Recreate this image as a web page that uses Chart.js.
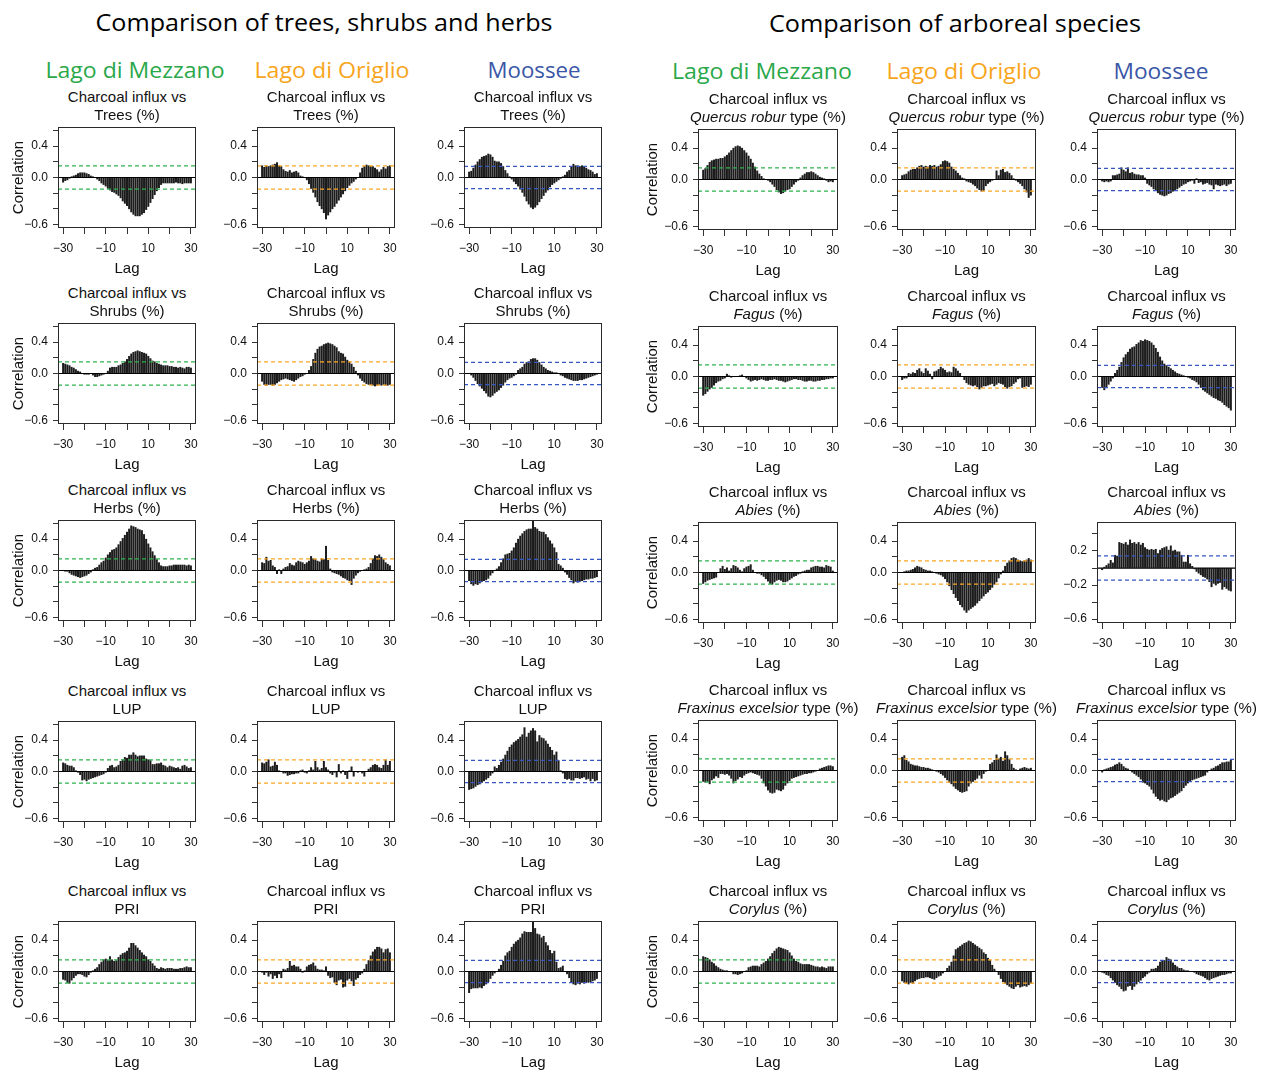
<!DOCTYPE html>
<html><head><meta charset="utf-8">
<script src="https://cdn.jsdelivr.net/npm/chart.js@4.4.0/dist/chart.umd.min.js"></script>
<style>
html,body{margin:0;padding:0;background:#fff;}
#wrap{position:relative;width:1265px;height:1070px;overflow:hidden;background:#fff;}
canvas{position:absolute;}
.t{position:absolute;white-space:nowrap;line-height:1;transform-origin:center center;}
.main{font-family:"Open Sans",sans-serif;font-size:24px;color:#000;}
.site{font-family:"Open Sans",sans-serif;font-size:22px;}
.sub{font-family:"Liberation Sans",Arial,sans-serif;font-size:15px;color:#111;}
</style></head><body><div id="wrap"></div>
<script>
// ---------------- DATA ----------------
const lags = [-30,-29,-28,-27,-26,-25,-24,-23,-22,-21,-20,-19,-18,-17,-16,-15,-14,-13,-12,-11,-10,-9,-8,-7,-6,-5,-4,-3,-2,-1,0,1,2,3,4,5,6,7,8,9,10,11,12,13,14,15,16,17,18,19,20,21,22,23,24,25,26,27,28,29,30];
const sites = ['Lago di Mezzano','Lago di Origlio','Moossee'];
const ciBySite = [0.148, 0.148, 0.143];
const leftRowLabels = ['Trees (%)','Shrubs (%)','Herbs (%)','LUP','PRI'];
const rightRowLabels = ['<i>Quercus robur</i> type (%)','<i>Fagus</i> (%)','<i>Abies</i> (%)','<i>Fraxinus excelsior</i> type (%)','<i>Corylus</i> (%)'];
const xTickValues = [-30,-20,-10,0,10,20,30];
const xTickLabels = [-30,-10,10,30];
const yTickValues = [-0.6,-0.4,-0.2,0,0.2,0.4,0.6];
const yTickLabels = [-0.6,0,0.4];
const yTickValuesAbiesMoossee = [-0.6,-0.4,-0.2,0,0.2,0.4];
const yTickLabelsAbiesMoossee = [-0.6,-0.2,0.2];

const mezzanoTrees = [-0.06,-0.04,-0.03,-0.01,0.01,0.02,0.03,0.05,0.06,0.06,
 0.06,0.05,0.04,0.02,0.01,0.00,-0.02,-0.04,-0.07,-0.09,
 -0.11,-0.14,-0.16,-0.18,-0.19,-0.21,-0.23,-0.26,-0.30,-0.33,
 -0.36,-0.40,-0.44,-0.47,-0.49,-0.49,-0.49,-0.47,-0.45,-0.41,
 -0.37,-0.32,-0.27,-0.22,-0.17,-0.13,-0.09,-0.07,-0.07,-0.07,
 -0.07,-0.07,-0.07,-0.06,-0.07,-0.07,-0.08,-0.07,-0.07,-0.07,-0.07];
const origlioTrees = [0.15,0.13,0.15,0.14,0.15,0.16,0.17,0.19,0.15,0.14,
 0.10,0.08,0.07,0.09,0.06,0.07,0.08,0.06,0.02,0.01,
 0.00,-0.03,-0.08,-0.14,-0.19,-0.25,-0.31,-0.36,-0.40,-0.45,
 -0.53,-0.48,-0.44,-0.40,-0.37,-0.33,-0.29,-0.25,-0.21,-0.17,
 -0.13,-0.10,-0.07,-0.05,-0.02,0.00,0.06,0.12,0.14,0.16,
 0.15,0.14,0.14,0.12,0.10,0.07,0.10,0.13,0.11,0.14,0.15];
const moosseeTrees = [0.07,0.08,0.12,0.16,0.20,0.23,0.26,0.27,0.28,0.30,
 0.29,0.26,0.21,0.20,0.20,0.18,0.14,0.09,0.05,0.01,
 -0.02,-0.05,-0.08,-0.11,-0.15,-0.19,-0.24,-0.30,-0.34,-0.38,
 -0.40,-0.38,-0.35,-0.31,-0.27,-0.23,-0.19,-0.16,-0.12,-0.09,
 -0.07,-0.05,-0.03,-0.01,0.01,0.03,0.07,0.09,0.13,0.17,
 0.15,0.15,0.14,0.15,0.14,0.12,0.10,0.09,0.07,0.04,0.05];
const mezzanoShrubs = [0.13,0.12,0.11,0.10,0.08,0.07,0.05,0.03,0.02,0.00,
 -0.01,-0.01,-0.01,0.00,-0.02,-0.04,-0.04,-0.03,-0.02,-0.01,
 0.00,0.03,0.07,0.08,0.08,0.08,0.10,0.11,0.13,0.15,
 0.18,0.22,0.25,0.27,0.28,0.29,0.28,0.27,0.26,0.25,
 0.22,0.19,0.16,0.15,0.13,0.12,0.11,0.10,0.10,0.10,
 0.09,0.09,0.08,0.08,0.07,0.08,0.07,0.06,0.08,0.08,0.07];
const origlioShrubs = [-0.10,-0.14,-0.15,-0.14,-0.14,-0.15,-0.14,-0.12,-0.10,-0.08,
 -0.07,-0.06,-0.07,-0.08,-0.09,-0.10,-0.08,-0.06,-0.04,-0.03,
 -0.01,0.00,0.04,0.09,0.18,0.26,0.31,0.34,0.35,0.37,
 0.38,0.39,0.38,0.37,0.35,0.33,0.28,0.26,0.25,0.21,
 0.17,0.15,0.12,0.08,0.03,-0.02,-0.06,-0.09,-0.11,-0.13,
 -0.14,-0.14,-0.15,-0.16,-0.15,-0.14,-0.15,-0.14,-0.15,-0.15,-0.14];
const moosseeShrubs = [0.00,-0.02,-0.05,-0.09,-0.13,-0.16,-0.19,-0.22,-0.25,-0.29,
 -0.30,-0.28,-0.25,-0.23,-0.21,-0.18,-0.15,-0.11,-0.08,-0.06,
 -0.05,-0.03,-0.01,0.04,0.06,0.08,0.12,0.14,0.15,0.18,
 0.19,0.19,0.17,0.14,0.11,0.08,0.06,0.04,0.03,0.02,
 0.01,0.01,0.00,-0.02,-0.03,-0.05,-0.06,-0.07,-0.08,-0.09,
 -0.09,-0.09,-0.08,-0.08,-0.07,-0.06,-0.05,-0.04,-0.03,-0.02,-0.01];
const mezzanoHerbs = [0.00,-0.01,-0.01,-0.03,-0.05,-0.06,-0.07,-0.08,-0.09,-0.08,
 -0.07,-0.06,-0.04,-0.02,0.01,0.03,0.04,0.07,0.10,0.12,
 0.16,0.20,0.23,0.26,0.27,0.29,0.33,0.37,0.41,0.45,
 0.49,0.53,0.57,0.56,0.55,0.53,0.52,0.51,0.46,0.40,
 0.34,0.29,0.24,0.19,0.14,0.10,0.06,0.05,0.05,0.05,
 0.06,0.06,0.07,0.07,0.07,0.07,0.07,0.07,0.06,0.07,0.06];
const origlioHerbs = [0.10,0.09,0.17,0.12,0.13,0.06,0.04,-0.04,0.01,-0.04,
 0.02,0.04,0.05,0.09,0.07,0.06,0.10,0.12,0.11,0.10,
 0.08,0.10,0.12,0.18,0.15,0.14,0.12,0.11,0.15,0.14,
 0.31,0.13,0.02,-0.02,-0.03,-0.04,-0.05,-0.07,-0.09,-0.10,
 -0.12,-0.13,-0.18,-0.10,-0.06,-0.03,-0.01,0.00,0.01,0.02,
 0.04,0.09,0.15,0.19,0.18,0.20,0.17,0.14,0.10,0.08,0.06];
const moosseeHerbs = [-0.13,-0.17,-0.19,-0.17,-0.18,-0.16,-0.14,-0.13,-0.12,-0.10,
 -0.06,-0.03,0.00,0.02,0.05,0.10,0.15,0.20,0.21,0.22,
 0.25,0.29,0.35,0.40,0.44,0.47,0.50,0.52,0.53,0.53,
 0.68,0.55,0.53,0.50,0.49,0.49,0.46,0.42,0.38,0.34,
 0.29,0.23,0.08,0.06,0.03,-0.02,-0.05,-0.09,-0.12,-0.16,
 -0.14,-0.15,-0.14,-0.13,-0.12,-0.11,-0.11,-0.10,-0.10,-0.09,-0.08];
const mezzanoLUP = [0.11,0.10,0.08,0.07,0.07,0.05,0.01,-0.01,-0.04,-0.11,
 -0.10,-0.12,-0.10,-0.09,-0.08,-0.07,-0.06,-0.05,-0.04,-0.03,
 -0.01,0.04,0.07,0.08,0.05,0.06,0.08,0.13,0.15,0.18,
 0.17,0.21,0.21,0.24,0.21,0.19,0.20,0.20,0.20,0.16,
 0.15,0.14,0.09,0.09,0.10,0.10,0.11,0.08,0.07,0.05,
 0.07,0.06,0.05,0.04,0.05,0.03,0.07,0.08,0.06,0.04,0.05];
const origlioLUP = [0.11,0.10,0.12,0.15,0.06,0.07,0.12,0.08,0.01,0.00,
 -0.02,-0.02,-0.05,-0.04,-0.03,-0.03,-0.02,-0.02,0.01,0.02,
 -0.01,-0.02,0.01,0.05,0.02,0.13,0.05,0.02,0.04,0.13,
 0.05,0.02,-0.02,-0.04,-0.01,-0.07,0.09,-0.02,0.01,-0.04,
 -0.09,0.01,0.06,-0.06,0.00,-0.01,0.00,-0.02,-0.06,0.00,
 0.03,0.05,0.08,0.09,0.08,0.05,0.04,0.08,0.15,0.08,0.13];
const moosseeLUP = [-0.23,-0.22,-0.21,-0.19,-0.17,-0.16,-0.14,-0.12,-0.10,-0.08,
 -0.05,-0.02,0.06,0.04,0.08,0.12,0.16,0.21,0.26,0.31,
 0.34,0.37,0.39,0.41,0.44,0.47,0.56,0.44,0.49,0.52,
 0.55,0.52,0.38,0.46,0.43,0.42,0.39,0.35,0.31,0.27,
 0.21,0.25,0.14,0.01,-0.02,-0.09,-0.10,-0.09,-0.11,-0.11,
 -0.08,-0.08,-0.09,-0.08,-0.07,-0.10,-0.09,-0.12,-0.09,-0.12,-0.11];
const mezzanoPRI = [-0.10,-0.11,-0.14,-0.15,-0.11,-0.08,-0.05,-0.03,-0.03,-0.04,
 -0.06,-0.07,-0.04,-0.01,0.01,0.03,0.05,0.09,0.12,0.15,
 0.16,0.14,0.19,0.15,0.13,0.14,0.18,0.21,0.23,0.24,
 0.26,0.30,0.36,0.36,0.33,0.30,0.27,0.24,0.21,0.19,
 0.15,0.13,0.10,0.07,0.04,0.03,0.05,0.04,0.03,0.04,
 0.04,0.04,0.03,0.03,0.03,0.04,0.04,0.05,0.06,0.05,0.05];
const origlioPRI = [-0.01,-0.04,-0.01,-0.06,-0.03,-0.09,-0.05,-0.08,-0.03,-0.08,
 0.03,0.02,0.04,0.13,0.07,0.08,0.06,0.06,0.03,-0.01,
 0.01,0.06,0.08,0.09,0.11,0.07,0.03,0.02,0.02,0.01,
 0.06,-0.05,-0.08,-0.07,-0.14,-0.17,-0.11,-0.10,-0.20,-0.19,
 -0.11,-0.09,-0.12,-0.18,-0.10,-0.08,-0.04,-0.02,0.03,0.09,
 0.14,0.20,0.25,0.28,0.31,0.31,0.29,0.24,0.28,0.29,0.24];
const moosseePRI = [-0.27,-0.22,-0.21,-0.21,-0.21,-0.20,-0.21,-0.18,-0.16,-0.13,
 -0.09,-0.05,-0.02,0.00,0.03,0.08,0.13,0.20,0.24,0.26,
 0.31,0.35,0.38,0.40,0.43,0.48,0.51,0.50,0.50,0.50,
 0.70,0.55,0.48,0.47,0.43,0.45,0.37,0.33,0.27,0.23,
 0.26,0.12,0.04,0.05,0.07,0.00,-0.03,-0.08,-0.13,-0.16,
 -0.17,-0.15,-0.16,-0.14,-0.15,-0.13,-0.14,-0.13,-0.12,-0.11,-0.09];

const mezzanoQuercus = [0.12,0.14,0.18,0.22,0.24,0.25,0.26,0.26,0.27,0.27,
 0.29,0.31,0.34,0.37,0.40,0.42,0.43,0.42,0.40,0.37,
 0.34,0.30,0.26,0.21,0.16,0.11,0.07,0.04,0.01,0.00,
 -0.01,-0.03,-0.06,-0.09,-0.13,-0.16,-0.18,-0.17,-0.15,-0.13,
 -0.12,-0.09,-0.06,-0.03,-0.01,0.02,0.05,0.07,0.09,0.09,
 0.10,0.09,0.07,0.05,0.03,0.02,0.01,-0.01,-0.03,-0.02,-0.03];
const origlioQuercus = [0.05,0.06,0.07,0.10,0.12,0.13,0.13,0.15,0.17,0.18,
 0.16,0.17,0.16,0.18,0.17,0.18,0.16,0.17,0.19,0.23,
 0.24,0.23,0.21,0.16,0.13,0.11,0.08,0.05,0.02,0.01,
 -0.02,-0.03,-0.04,-0.06,-0.08,-0.11,-0.13,-0.15,-0.14,-0.08,
 -0.05,-0.03,-0.01,0.00,0.11,0.05,0.12,0.13,0.09,0.10,
 0.08,0.05,0.01,-0.01,-0.03,-0.05,-0.08,-0.12,-0.16,-0.23,-0.20];
const moosseeQuercus = [-0.02,-0.03,-0.02,-0.03,-0.02,0.05,0.05,0.06,0.07,0.15,
 0.12,0.10,0.15,0.08,0.09,0.07,0.06,0.06,0.05,0.05,
 0.02,-0.05,-0.07,-0.09,-0.12,-0.14,-0.17,-0.19,-0.20,-0.21,
 -0.20,-0.18,-0.17,-0.15,-0.14,-0.12,-0.10,-0.08,-0.06,-0.05,
 -0.03,-0.02,-0.01,-0.05,0.01,-0.04,-0.03,-0.06,-0.05,-0.04,
 -0.06,-0.07,-0.12,-0.06,-0.07,-0.08,-0.07,-0.06,-0.08,-0.06,-0.05];
const mezzanoFagus = [-0.24,-0.22,-0.19,-0.16,-0.14,-0.11,-0.08,-0.06,-0.05,-0.03,
 -0.02,0.03,0.01,-0.01,0.00,0.00,0.00,0.01,0.02,0.00,
 -0.02,-0.04,-0.06,-0.05,-0.04,-0.05,-0.04,-0.03,-0.04,-0.05,
 -0.05,-0.04,-0.04,-0.03,-0.04,-0.05,-0.05,-0.06,-0.07,-0.06,
 -0.05,-0.04,-0.03,-0.03,-0.04,-0.04,-0.05,-0.06,-0.06,-0.05,
 -0.05,-0.06,-0.06,-0.05,-0.05,-0.04,-0.04,-0.03,-0.03,-0.02,-0.02];
const origlioFagus = [-0.04,-0.02,-0.02,0.04,0.03,0.05,0.04,0.08,0.10,0.06,
 0.04,0.10,0.07,0.03,-0.03,0.06,0.07,0.09,0.12,0.10,
 0.08,0.05,0.06,0.05,0.12,0.10,0.07,0.04,0.00,-0.04,
 -0.08,-0.10,-0.11,-0.12,-0.11,-0.13,-0.16,-0.14,-0.12,-0.12,
 -0.11,-0.10,-0.09,-0.12,-0.10,-0.08,-0.09,-0.10,-0.13,-0.15,
 -0.13,-0.12,-0.09,-0.07,-0.03,-0.02,-0.14,-0.13,-0.12,-0.13,-0.10];
const moosseeFagus = [-0.14,-0.17,-0.14,-0.10,-0.06,-0.02,0.04,0.08,0.12,0.18,
 0.24,0.28,0.31,0.35,0.37,0.38,0.41,0.43,0.46,0.45,
 0.47,0.46,0.45,0.43,0.40,0.36,0.31,0.25,0.20,0.16,
 0.14,0.12,0.10,0.08,0.06,0.04,0.03,0.02,0.01,0.00,
 -0.01,-0.02,-0.04,-0.05,-0.07,-0.10,-0.14,-0.17,-0.19,-0.21,
 -0.23,-0.25,-0.27,-0.28,-0.30,-0.31,-0.33,-0.36,-0.38,-0.40,-0.43];
const mezzanoAbies = [-0.14,-0.12,-0.10,-0.09,-0.08,-0.07,-0.06,0.00,0.05,0.08,
 0.04,0.06,0.02,0.05,0.09,0.08,0.06,0.03,0.01,0.05,
 0.07,0.08,0.10,0.03,0.00,-0.01,-0.01,-0.03,-0.05,-0.08,
 -0.11,-0.14,-0.15,-0.12,-0.10,-0.09,-0.10,-0.12,-0.12,-0.11,
 -0.09,-0.07,-0.05,-0.04,-0.02,-0.01,0.01,0.02,0.03,0.03,
 0.06,0.07,0.08,0.08,0.07,0.07,0.06,0.09,0.08,0.07,0.02];
const origlioAbies = [0.00,0.01,0.02,0.02,0.03,0.04,0.06,0.08,0.07,0.06,
 0.04,0.03,0.02,0.02,0.01,0.00,-0.01,-0.02,-0.03,-0.05,
 -0.08,-0.12,-0.17,-0.22,-0.27,-0.32,-0.36,-0.41,-0.44,-0.48,
 -0.51,-0.48,-0.46,-0.44,-0.42,-0.39,-0.36,-0.33,-0.30,-0.27,
 -0.25,-0.22,-0.19,-0.15,-0.12,-0.07,-0.02,0.02,0.08,0.12,
 0.15,0.18,0.19,0.18,0.16,0.15,0.14,0.15,0.16,0.18,0.16];
const moosseeAbies = [-0.02,0.01,0.03,0.05,0.09,0.06,0.15,0.14,0.30,0.29,
 0.28,0.30,0.27,0.33,0.29,0.30,0.28,0.30,0.27,0.29,
 0.24,0.22,0.21,0.22,0.21,0.22,0.17,0.21,0.23,0.24,
 0.25,0.21,0.26,0.20,0.21,0.19,0.19,0.15,0.07,0.07,
 0.15,0.05,0.02,-0.01,-0.04,-0.06,-0.08,-0.10,-0.11,-0.13,
 -0.16,-0.22,-0.18,-0.20,-0.18,-0.17,-0.25,-0.22,-0.24,-0.26,-0.27];
const mezzanoFraxinus = [-0.14,-0.15,-0.14,-0.17,-0.12,-0.10,-0.07,-0.09,-0.04,-0.04,
 -0.05,-0.04,-0.06,-0.10,-0.16,-0.13,-0.11,-0.08,-0.09,-0.06,
 -0.04,-0.03,-0.02,-0.03,-0.04,-0.05,-0.06,-0.10,-0.16,-0.20,
 -0.25,-0.28,-0.29,-0.28,-0.24,-0.25,-0.26,-0.24,-0.19,-0.16,
 -0.13,-0.10,-0.09,-0.08,-0.07,-0.06,-0.05,-0.04,-0.04,-0.03,
 -0.03,-0.02,-0.01,0.00,0.02,0.03,0.04,0.05,0.06,0.06,0.05];
const origlioFraxinus = [0.17,0.19,0.13,0.11,0.08,0.07,0.06,0.06,0.05,0.04,
 0.04,0.03,0.03,0.02,0.01,0.00,-0.01,-0.02,-0.04,-0.06,
 -0.09,-0.12,-0.15,-0.17,-0.20,-0.23,-0.25,-0.27,-0.28,-0.27,
 -0.26,-0.20,-0.16,-0.14,-0.12,-0.10,-0.06,-0.10,-0.04,-0.01,
 0.00,0.08,0.10,0.13,0.20,0.15,0.17,0.12,0.24,0.19,
 0.14,0.08,0.03,0.01,0.00,0.02,0.03,0.04,0.03,0.02,0.03];
const moosseeFraxinus = [-0.02,0.01,0.02,0.03,0.04,0.05,0.07,0.08,0.10,0.08,
 0.05,0.03,0.02,0.00,-0.02,-0.04,-0.06,-0.08,-0.11,-0.15,
 -0.16,-0.18,-0.20,-0.24,-0.29,-0.33,-0.36,-0.38,-0.37,-0.39,
 -0.40,-0.37,-0.35,-0.34,-0.32,-0.30,-0.28,-0.26,-0.22,-0.19,
 -0.16,-0.14,-0.12,-0.11,-0.10,-0.09,-0.08,-0.07,-0.06,-0.02,
 0.00,0.02,0.03,0.05,0.06,0.08,0.10,0.10,0.11,0.11,0.13];
const mezzanoCorylus = [0.19,0.18,0.17,0.15,0.12,0.10,0.07,0.05,0.03,0.02,
 0.01,0.01,0.00,0.00,-0.03,-0.03,-0.04,-0.03,-0.02,0.00,
 0.01,0.05,0.06,0.07,0.07,0.07,0.06,0.09,0.11,0.13,
 0.16,0.19,0.23,0.26,0.29,0.31,0.30,0.29,0.28,0.27,
 0.24,0.20,0.16,0.13,0.12,0.10,0.09,0.09,0.09,0.09,
 0.08,0.07,0.06,0.06,0.05,0.06,0.05,0.04,0.06,0.06,0.06];
const origlioCorylus = [-0.12,-0.14,-0.15,-0.16,-0.14,-0.15,-0.12,-0.10,-0.09,-0.08,
 -0.08,-0.07,-0.07,-0.08,-0.09,-0.10,-0.08,-0.06,-0.05,-0.02,
 0.00,0.04,0.07,0.12,0.20,0.28,0.30,0.32,0.34,0.36,
 0.37,0.39,0.38,0.36,0.34,0.32,0.30,0.28,0.24,0.22,
 0.17,0.14,0.08,0.03,0.00,-0.04,-0.09,-0.13,-0.15,-0.17,
 -0.19,-0.21,-0.22,-0.19,-0.17,-0.20,-0.19,-0.18,-0.19,-0.17,-0.15];
const moosseeCorylus = [-0.01,-0.02,-0.04,-0.05,-0.08,-0.11,-0.14,-0.17,-0.19,-0.22,
 -0.25,-0.24,-0.19,-0.18,-0.23,-0.19,-0.16,-0.13,-0.11,-0.08,
 -0.06,-0.03,-0.01,0.03,0.03,0.04,0.07,0.12,0.13,0.14,
 0.18,0.16,0.15,0.11,0.08,0.06,0.04,0.04,0.02,0.01,
 0.01,0.00,0.00,-0.01,-0.03,-0.04,-0.05,-0.06,-0.08,-0.10,
 -0.11,-0.09,-0.08,-0.07,-0.06,-0.05,-0.04,-0.04,-0.03,-0.02,-0.02];

const seriesGrid = [
  [mezzanoTrees,  origlioTrees,  moosseeTrees,  mezzanoQuercus,  origlioQuercus,  moosseeQuercus],
  [mezzanoShrubs, origlioShrubs, moosseeShrubs, mezzanoFagus,    origlioFagus,    moosseeFagus],
  [mezzanoHerbs,  origlioHerbs,  moosseeHerbs,  mezzanoAbies,    origlioAbies,    moosseeAbies],
  [mezzanoLUP,    origlioLUP,    moosseeLUP,    mezzanoFraxinus, origlioFraxinus, moosseeFraxinus],
  [mezzanoPRI,    origlioPRI,    moosseePRI,    mezzanoCorylus,  origlioCorylus,  moosseeCorylus]
];

// ---------------- LAYOUT / STYLE ----------------
const siteColors = ['#2aa84a','#f9a51b','#3a56a6'];
const ciColors = ['#2eb24e','#f9a825','#3656c0'];
const boxLeft = [58, 257, 464, 698, 897, 1097];
const boxWidth = [138, 138, 138, 140, 139, 139];
const boxTopLeft = [127, 323, 520, 721, 921];
const boxTopRight = [129, 326, 522, 720, 921];
const BOXH = 101, AXW = 55, AXH = 50, PADT = 8, PADR = 14;
const XMIN = -32.4, XMAX = 32.4;
const FONT = 'Liberation Sans';

Chart.defaults.font.family = FONT;
const wrap = document.getElementById('wrap');

function addText(html, cx, cy, cls, color, targetW) {
  const d = document.createElement('div');
  d.className = 't ' + cls;
  d.innerHTML = html;
  d.style.left = cx + 'px';
  d.style.top = cy + 'px';
  if (color) d.style.color = color;
  wrap.appendChild(d);
  let sx = 1;
  if (targetW) { const w = d.getBoundingClientRect().width; if (w > 0) sx = targetW / w; }
  d.style.transform = 'translate(-50%,-50%) scaleX(' + sx + ')';
}

const minus = v => (v < 0 ? '\u2212' : '');
const near = (a, b) => Math.abs(a - b) < 1e-9;

const boxPlugin = {
  id: 'frame',
  afterDraw(chart) {
    const a = chart.chartArea, ctx = chart.ctx;
    ctx.save();
    ctx.strokeStyle = '#2a2a2a';
    ctx.lineWidth = 1;
    ctx.strokeRect(a.left + 0.5, a.top + 0.5, a.right - a.left - 1, a.bottom - a.top - 1);
    ctx.restore();
  }
};

function makePanel(row, col) {
  const vals = seriesGrid[row][col];
  const site = col % 3;
  const right = col >= 3;
  const left = boxLeft[col], w = boxWidth[col];
  const top = right ? boxTopRight[row] : boxTopLeft[row];
  const special = (row === 2 && col === 5);
  const yMin = -0.645, yMax = special ? 0.54 : 0.645;
  const yT = special ? yTickValuesAbiesMoossee : yTickValues;
  const yL = special ? yTickLabelsAbiesMoossee : yTickLabels;
  const ci = ciBySite[site];

  const c = document.createElement('canvas');
  const W = AXW + w + PADR, H = PADT + BOXH + AXH;
  c.width = W; c.height = H;
  c.style.width = W + 'px'; c.style.height = H + 'px';
  c.style.left = (left - AXW) + 'px'; c.style.top = (top - PADT) + 'px';
  wrap.appendChild(c);

  const showCorr = (col === 0 || col === 3);
  new Chart(c, {
    type: 'bar',
    data: {
      datasets: [
        { type: 'bar', data: lags.map((l, i) => ({ x: l, y: vals[i] })), backgroundColor: '#1c1c1c', borderWidth: 0, barThickness: 1.35, order: 3 },
        { type: 'line', data: [{ x: XMIN, y: 0 }, { x: XMAX, y: 0 }], borderColor: '#000', borderWidth: 1.2, pointRadius: 0, order: 2 },
        { type: 'line', data: [{ x: XMIN, y: ci }, { x: XMAX, y: ci }], borderColor: ciColors[site], borderWidth: 1.3, borderDash: [4, 3], pointRadius: 0, order: 1 },
        { type: 'line', data: [{ x: XMIN, y: -ci }, { x: XMAX, y: -ci }], borderColor: ciColors[site], borderWidth: 1.3, borderDash: [4, 3], pointRadius: 0, order: 1 }
      ]
    },
    options: {
      responsive: false, animation: false, devicePixelRatio: 1,
      layout: { padding: { top: PADT, right: PADR, left: 0, bottom: 0 } },
      plugins: { legend: { display: false }, tooltip: { enabled: false } },
      scales: {
        x: {
          type: 'linear', min: XMIN, max: XMAX, offset: false,
          afterBuildTicks: s => { s.ticks = xTickValues.map(v => ({ value: v })); },
          ticks: { autoSkip: false, maxRotation: 0, minRotation: 0, padding: 7, color: '#111', font: { size: 12 },
                   callback: v => xTickLabels.some(t => near(t, v)) ? minus(v) + Math.abs(v) : '' },
          grid: { drawOnChartArea: false, drawTicks: true, tickLength: 6, color: '#333', offset: false },
          border: { display: false },
          title: { display: true, text: 'Lag', color: '#111', font: { size: 15 }, padding: { top: 0, bottom: 0 } },
          afterFit: s => { s.height = AXH; s.paddingLeft = 0; s.paddingRight = 0; }
        },
        y: {
          type: 'linear', min: yMin, max: yMax,
          afterBuildTicks: s => { s.ticks = yT.map(v => ({ value: v })); },
          ticks: { autoSkip: false, padding: 5, color: '#111', font: { size: 12 },
                   callback: v => yL.some(t => near(t, v)) ? minus(v) + Math.abs(v).toFixed(1) : '' },
          grid: { drawOnChartArea: false, drawTicks: true, tickLength: 5, color: '#333' },
          border: { display: false },
          title: { display: showCorr, text: 'Correlation', color: '#111', font: { size: 15 }, padding: { top: right ? 1 : 7, bottom: 0 } },
          afterFit: s => { s.width = AXW; s.paddingTop = 0; s.paddingBottom = 0; }
        }
      }
    },
    plugins: [boxPlugin]
  });

  // panel subtitle
  const cx = left + w / 2;
  addText('Charcoal influx vs', cx, top - 31, 'sub');
  addText(right ? rightRowLabels[row] : leftRowLabels[row], cx, top - 13.5, 'sub');
}

// headers
addText('Comparison of trees, shrubs and herbs', 323.5, 22, 'main', null, 457);
addText('Comparison of arboreal species', 955, 22.5, 'main', null, 372);
const siteCentersLeft = [135, 332, 533.5], siteCentersRight = [761.5, 964, 1161];
const siteWidthsLeft = [179, 155, 93], siteWidthsRight = [180, 155, 95];
for (let i = 0; i < 3; i++) {
  addText(sites[i], siteCentersLeft[i], 68.5, 'site', siteColors[i], siteWidthsLeft[i]);
  addText(sites[i], siteCentersRight[i], 69.5, 'site', siteColors[i], siteWidthsRight[i]);
}
for (let r = 0; r < 5; r++) for (let c = 0; c < 6; c++) makePanel(r, c);
</script>
</body></html>
